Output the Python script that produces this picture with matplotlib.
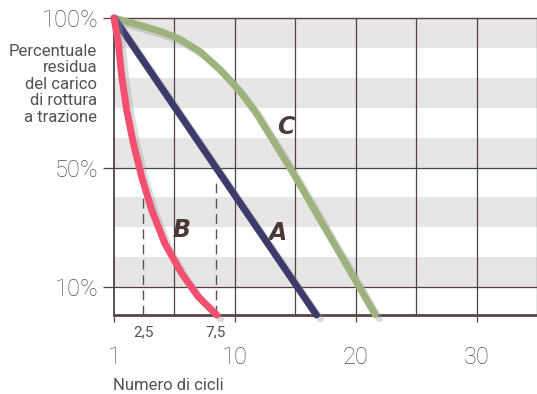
import numpy as np
import matplotlib
matplotlib.use("Agg")
import matplotlib.pyplot as plt
import matplotlib.patheffects as pe

# x in grid units (one grid cell = 5), y in percent of residual strength
a_x = [0.0, 16.75]
a_y = [100.0, 0.7]

b_x = [0.0, 0.36, 0.64, 1.05, 1.6, 2.29, 3.12, 4.21, 5.6, 6.97, 8.5]
b_y = [100.0, 91.5, 80.4, 69.2, 58.1, 46.9, 35.8, 24.6, 14.6, 6.8, 0.7]

c_x = [0.0, 2.4, 4.0, 5.45, 7.1, 8.76, 10.4, 11.8, 12.9, 14.0, 14.96, 17.3, 19.9, 21.6]
c_y = [100.0, 97.3, 95.3, 92.9, 88.8, 82.8, 75.6, 68.0, 60.8, 53.6, 47.2, 30.9, 12.8, 0.9]

y_ticks = [100, 50, 10]
y_ticklabels = ["100%", "50%", "10%"]
x_ticks = [0, 10, 20, 30]
x_ticklabels = ["1", "10", "20", "30"]
dash_x = [2.4, 8.4]
dash_labels = ["2,5", "7,5"]
dash_top = 45
bands = [(90, 100), (70, 80), (50, 60), (30, 40), (10, 20)]

txt = "#555050"
grid_c = "#4e4242"

plt.rcParams['font.family'] = ['Roboto', 'Liberation Sans', 'DejaVu Sans']

fig = plt.figure(figsize=(5.37, 3.94), dpi=100)
ax = fig.add_axes([114 / 537, 1 - 315 / 394, 1 - 114 / 537, (315 - 18) / 394])
ax.set_xlim(0, 35)
ax.set_ylim(0.7, 100)

for lo, hi in bands:
    ax.axhspan(lo, hi, color="#e8e5e5", lw=0, zorder=0)

for gx in np.arange(5, 36, 5):
    ax.axvline(gx, color=grid_c, lw=0.9, zorder=1)
for gy in [50, 10]:
    ax.axhline(gy, color=grid_c, lw=0.9, zorder=1)

for dx in dash_x:
    ax.plot([dx, dx], [0.7, dash_top], color="#555", lw=1.0, ls=(0, (7, 4)), zorder=2)

shadow = [pe.SimpleLineShadow(offset=(3, -3), shadow_color="#999", alpha=0.35), pe.Normal()]
style = dict(lw=5, solid_capstyle="round", solid_joinstyle="round", clip_on=False, path_effects=shadow)
ax.plot(c_x, c_y, color="#9db37d", zorder=3, **style)
ax.plot(a_x, a_y, color="#3c3b6b", zorder=4, **style)
ax.plot(b_x, b_y, color="#f2506e", zorder=5, **style)

lbl = dict(fontsize=17, fontweight="heavy", style="italic", color="#4a3a36", ha="center", va="center",
           family=["DejaVu Sans"])
ax.text(13.5, 28.0, "A", **lbl)
ax.text(5.6, 29.0, "B", **lbl)
ax.text(14.2, 63.5, "C", **lbl)

ax.spines["right"].set_visible(False)
ax.spines["top"].set_color(grid_c)
ax.spines["top"].set_linewidth(1.0)
ax.spines["left"].set_color(grid_c)
ax.spines["left"].set_linewidth(1.3)
ax.spines["bottom"].set_color("#5a4343")
ax.spines["bottom"].set_linewidth(2.0)

ax.set_yticks(y_ticks)
ax.set_yticklabels(y_ticklabels, fontsize=17, color=txt, fontweight="light")
ax.tick_params(axis="y", length=8, width=0.9, color=grid_c, pad=3)
ax.set_xticks(x_ticks)
ax.set_xticklabels(x_ticklabels, fontsize=17, color=txt, fontweight="light")
ax.tick_params(axis="x", length=5, width=0.9, color=grid_c, pad=17)

for dx, dl in zip(dash_x, dash_labels):
    ax.text(dx, -0.035, dl, transform=ax.get_xaxis_transform(), ha="center", va="top",
            fontsize=11, color=txt)

fig.text(97 / 537, 1 - 44 / 394, "Percentuale\nresidua\ndel carico\ndi rottura\na trazione",
         ha="right", va="top", fontsize=12, color=txt, linespacing=1.12)
fig.text(113 / 537, 1 - 385 / 394, "Numero di cicli", ha="left", va="center", fontsize=12,
         color=txt)

fig.savefig("out.png", dpi=100)
